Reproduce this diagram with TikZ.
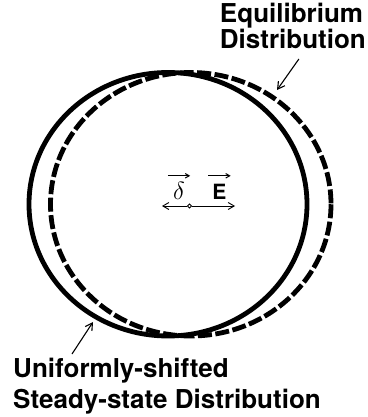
\documentclass[tikz,border=0pt]{standalone}
\usepackage{fontspec}
\setmainfont{TeX Gyre Heros}
\usetikzlibrary{arrows.meta}
\definecolor{plateink}{HTML}{000000}

\begin{document}
\begin{tikzpicture}[
  x=1pt,
  y=-1pt,
  every node/.style={plateink},
  steady/.style={plateink, line width=4.8pt},
  equil/.style={plateink, line width=4.8pt, dash pattern=on 14pt off 3.5pt},
  pointer/.style={plateink, line width=1.1pt, -{Straight Barb[length=7pt, width=8pt]}},
  shiftline/.style={plateink, line width=0.9pt, -{Straight Barb[length=6pt, width=7pt]}},
  vecarrow/.style={plateink, line width=1pt, -{Straight Barb[length=4pt, width=4.5pt]}},
  caption/.style={font=\bfseries, inner sep=0pt, align=left},
  symbol/.style={anchor=base, minimum width=22pt, inner xsep=0pt,
    inner ysep=5pt, text height=18pt}
]
  % ---- frame of the plate ---------------------------------------------
  \useasboundingbox (0,0) rectangle (367,417);

  % ---- the two distributions ------------------------------------------
  \draw[steady] (168,204.25) ellipse [x radius=139, y radius=131.75];
  \draw[equil] (190.75,204.25) ellipse [x radius=140.25, y radius=131.75];

  % ---- drift of the distribution ---------------------------------------
  \coordinate (leftend) at (162,206);
  \coordinate (rightend) at (235,206);
  \node[circle, draw, line width=0.9pt, fill=white, inner sep=1.4pt] (origin) at (189.5,206) {};
  \draw[shiftline] (origin) -- (leftend);
  \draw[shiftline] (origin) -- (rightend);

  \node[symbol, font=\fontsize{26}{26}\selectfont] (delta) at (179,199) {$\delta$};
  \node[symbol, font=\fontsize{21}{21}\selectfont\bfseries] (field) at (219.5,199) {E};
  \draw[vecarrow] (delta.north west) -- (delta.north east);
  \draw[vecarrow] (field.north west) -- (field.north east);

  % ---- labels -----------------------------------------------------------
  \node[caption, anchor=north east, font=\fontsize{26}{23}\selectfont\bfseries]
    (eqlabel) at (366,3) {Equilibrium\\Distribution};
  \coordinate (eqtip) at (277,90);
  \draw[pointer] ([xshift=6pt, yshift=-10pt]eqlabel.south) -- (eqtip);

  \node[caption, anchor=north west, font=\fontsize{26}{30.5}\selectfont\bfseries]
    (shlabel) at (13,358) {Uniformly-shifted\\Steady-state Distribution};
  \coordinate (shtip) at (93,322);
  \draw[pointer] ([xshift=59pt, yshift=4pt]shlabel.north west) -- (shtip);
\end{tikzpicture}
\end{document}
